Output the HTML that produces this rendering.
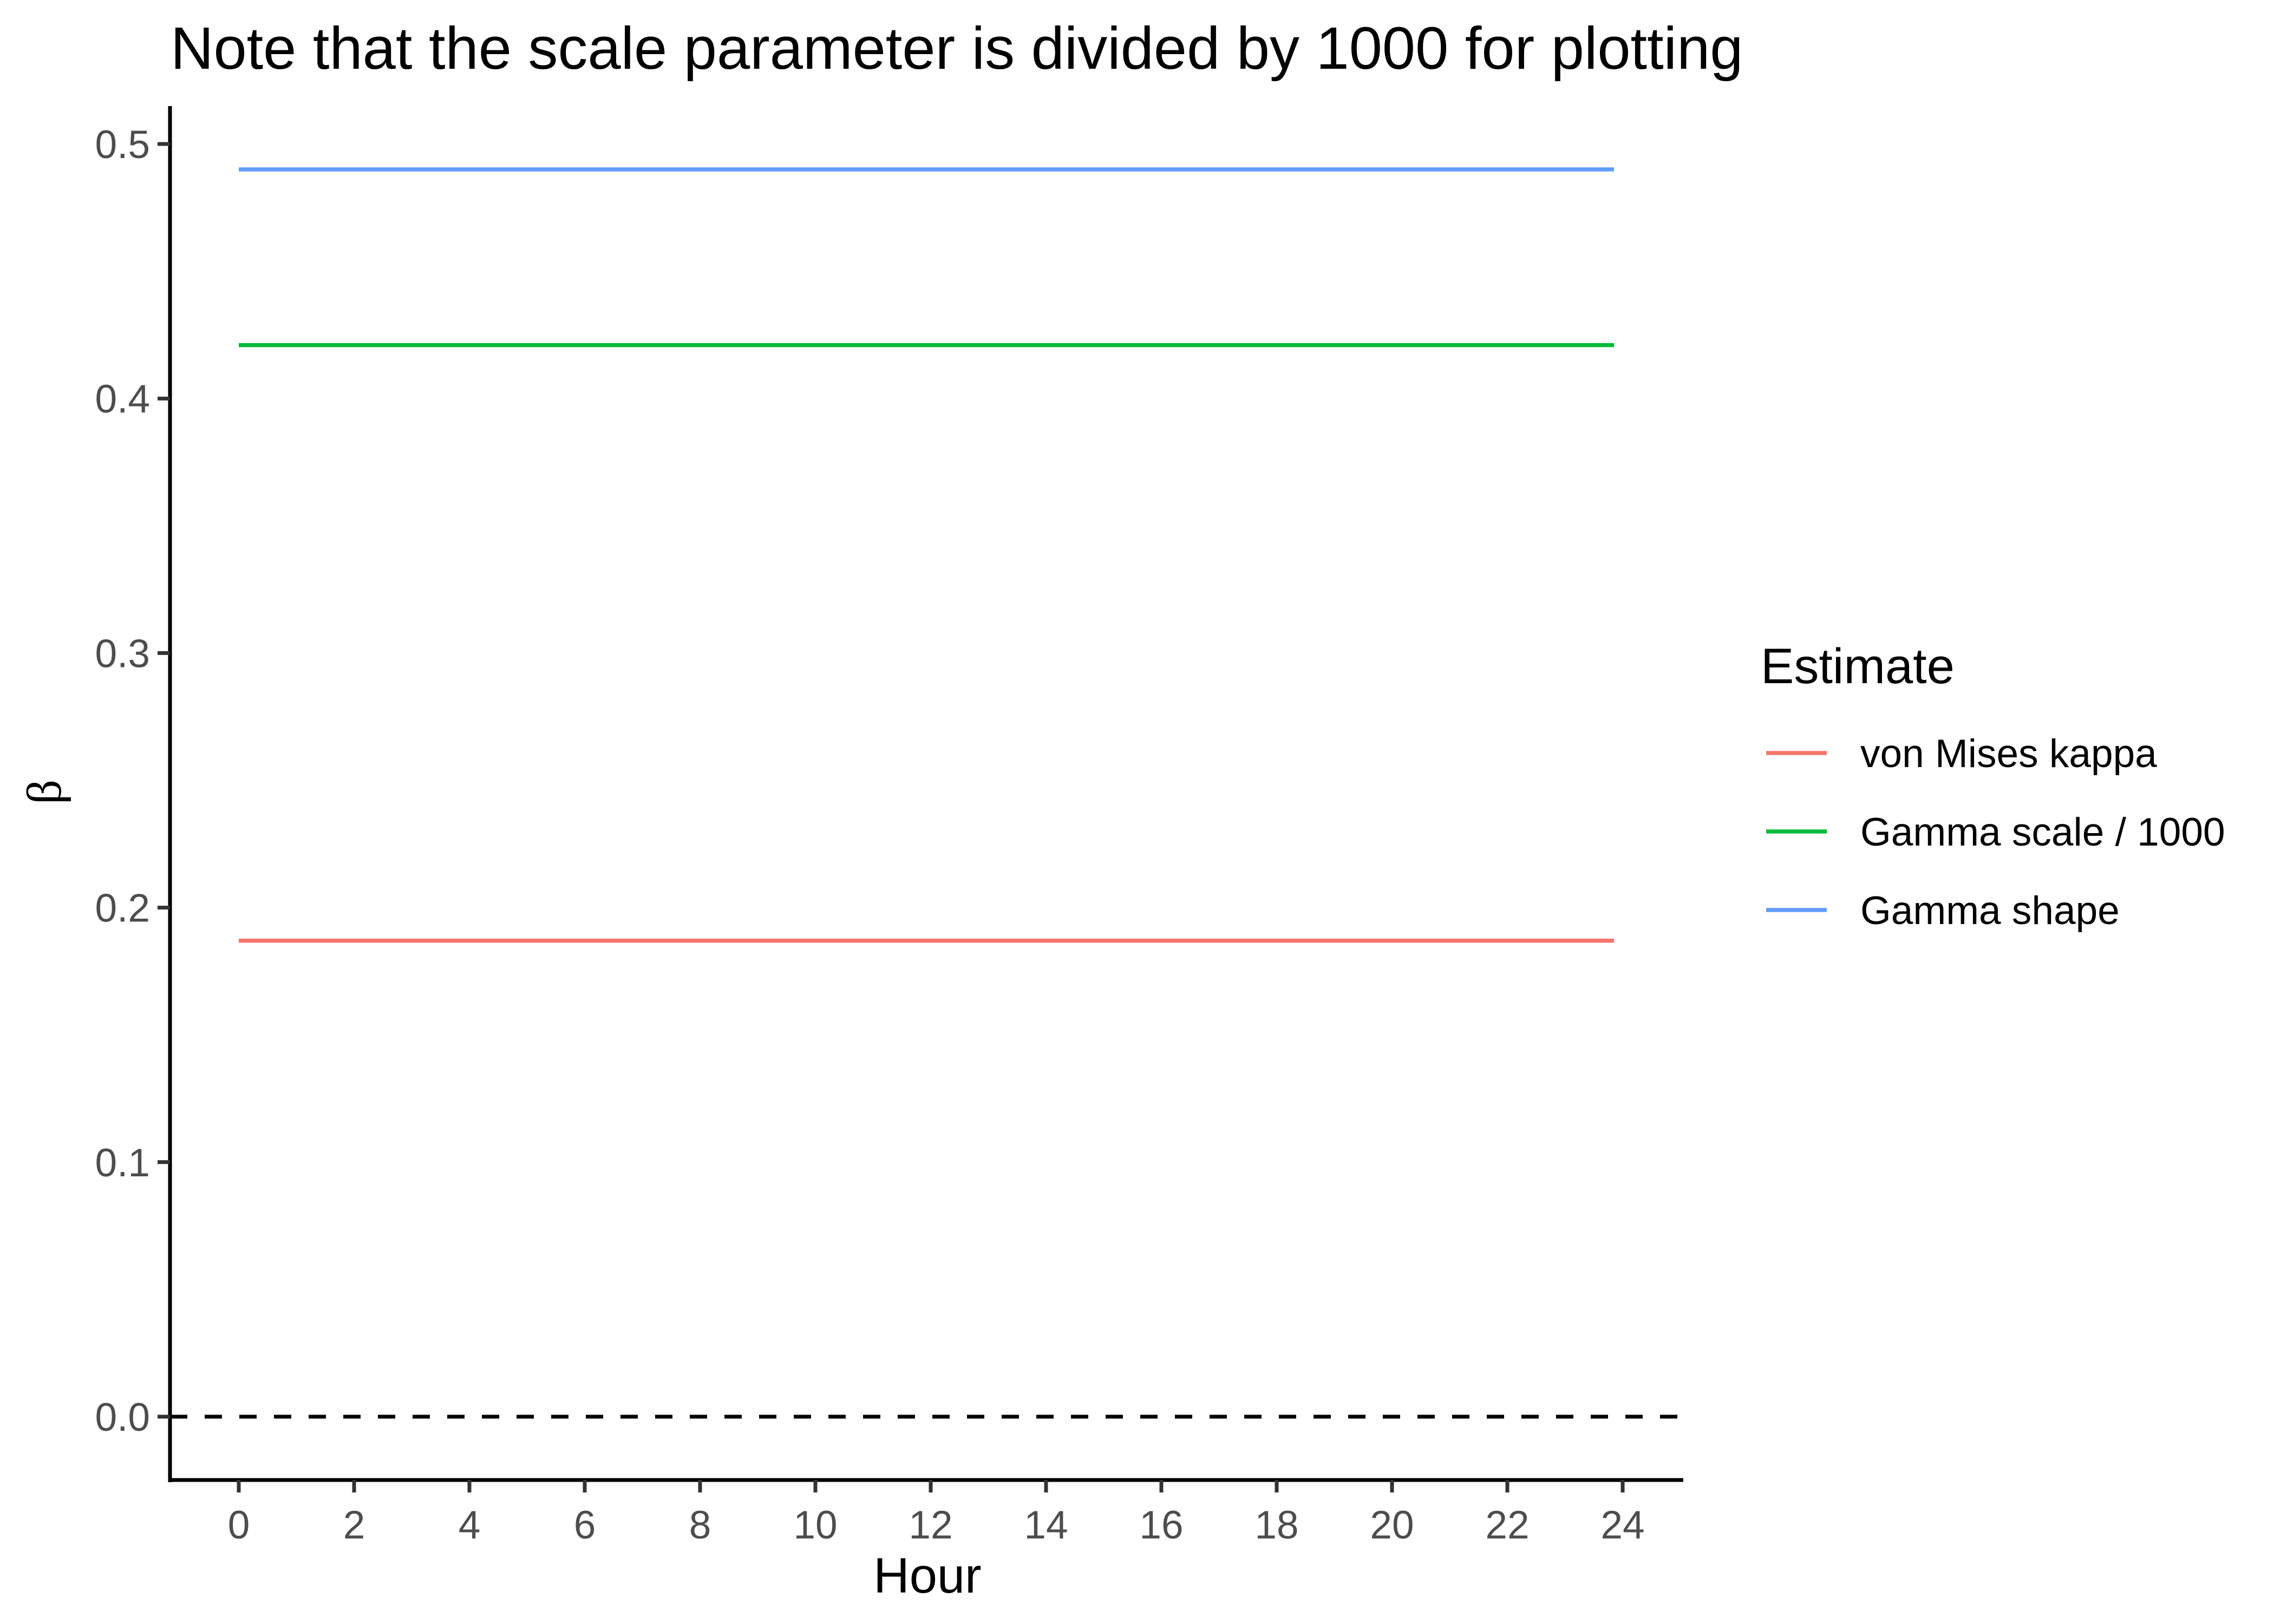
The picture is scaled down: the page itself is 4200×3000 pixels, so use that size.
<!DOCTYPE html>
<html><head><meta charset="utf-8"><style>
html,body{margin:0;padding:0;background:#fff;}
svg{display:block;font-family:"Liberation Sans",Arial,sans-serif;}
</style></head><body>
<svg id="chart" width="4200" height="3000" viewBox="0 0 4200 3000">
<rect width="4200" height="3000" fill="#fff"/>
<text x="315" y="127" font-size="110" fill="#000">Note that the scale parameter is divided by 1000 for plotting</text>
<g id="plot"></g>
<text x="1713" y="2942" font-size="92" text-anchor="middle" fill="#000">Hour</text>
<text transform="translate(112,1463) rotate(-90)" font-size="90" text-anchor="middle" fill="#000" font-family="Liberation Serif, serif">β</text>
<g id="legend"></g>
</svg>
<script>
const seriesNames = ["von Mises kappa", "Gamma scale / 1000", "Gamma shape"];
const seriesColors = ["#F8766D", "#00BA38", "#619CFF"];
const hours = [0, 23.85];
const kappaVals = [0.187, 0.187];
const scaleVals = [0.421, 0.421];
const shapeVals = [0.490, 0.490];
const xTicks = [0,2,4,6,8,10,12,14,16,18,20,22,24];
const yTicks = [0.0,0.1,0.2,0.3,0.4,0.5];
const yTickLabels = ["0.0","0.1","0.2","0.3","0.4","0.5"];
const refLine = 0;

const NS = "http://www.w3.org/2000/svg";
const X0 = 441, XPER = 106.5, Y0 = 2617, YPER = 4702;
function xs(v){ return X0 + v*XPER; }
function ys(v){ return Y0 - v*YPER; }
function mk(tag, attrs, parent){
  const e = document.createElementNS(NS, tag);
  for (const k in attrs) e.setAttribute(k, attrs[k]);
  parent.appendChild(e);
  return e;
}
const plot = document.getElementById("plot");
const legend = document.getElementById("legend");

const zl = mk("line", {x1:314, x2:3109, y1:ys(refLine), y2:ys(refLine), stroke:"#000", "stroke-width":7, "stroke-dasharray":"32,32"}, plot);



const allVals = [kappaVals, scaleVals, shapeVals];
allVals.forEach((vals, i) => {
  const pts = hours.map((h, j) => xs(h) + "," + ys(vals[j])).join(" ");
  const pl = mk("polyline", {points: pts, fill:"none", stroke: seriesColors[i], "stroke-width":7.5}, plot);
  
  
});

const ya = mk("line", {x1:314, x2:314, y1:196, y2:2738, stroke:"#000", "stroke-width":7}, plot);


const xa = mk("line", {x1:311, x2:3109, y1:2734, y2:2734, stroke:"#000", "stroke-width":7}, plot);



yTicks.forEach((v, i) => {
  const t = mk("line", {x1:291, x2:314, y1:ys(v), y2:ys(v), stroke:"#333", "stroke-width":7}, plot);
  
  
  const l = mk("text", {x:277, y:ys(v)+26, "font-size":73, fill:"#4d4d4d", "text-anchor":"end"}, plot);
  l.textContent = yTickLabels[i];
  
  
});
xTicks.forEach(v => {
  const t = mk("line", {x1:xs(v), x2:xs(v), y1:2734, y2:2757, stroke:"#333", "stroke-width":7}, plot);
  
  
  const l = mk("text", {x:xs(v), y:2842, "font-size":73, fill:"#4d4d4d", "text-anchor":"middle"}, plot);
  l.textContent = String(v);
  
  
});

const lt = mk("text", {x:3252, y:1262, "font-size":92, fill:"#000"}, legend);
lt.textContent = "Estimate";


seriesNames.forEach((n, i) => {
  const y = 1391 + i*145;
  const k = mk("line", {x1:3262, x2:3374, y1:y, y2:y, stroke:seriesColors[i], "stroke-width":7.5}, legend);
  
  
  const t = mk("text", {x:3436, y:y+26, "font-size":73, fill:"#000"}, legend);
  t.textContent = n;
  
  
});
</script>
</body></html>
